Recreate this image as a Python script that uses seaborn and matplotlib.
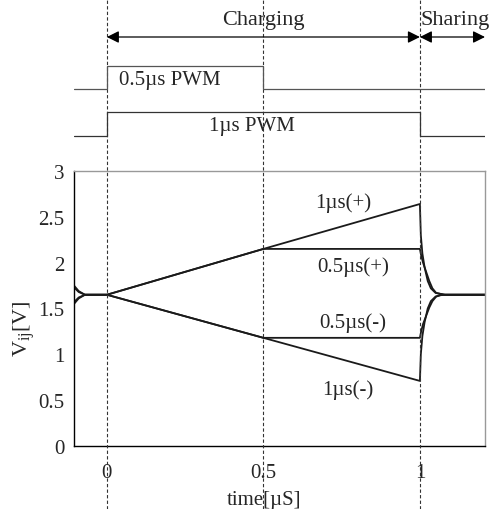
import numpy as np
import pandas as pd
import seaborn as sns
import matplotlib.pyplot as plt

# data (time in us, voltage in V)
t_1p = [-0.105, -0.09, -0.07, 0.0, 0.5, 1.0, 1.003, 1.008, 1.015, 1.025, 1.035, 1.05, 1.065, 1.08, 1.21]
v_1p = [1.75, 1.69, 1.65, 1.65, 2.15, 2.64, 2.30, 2.10, 1.95, 1.80, 1.72, 1.67, 1.66, 1.65, 1.65]
t_05p = [-0.105, -0.09, -0.07, 0.0, 0.5, 1.0, 1.004, 1.01, 1.02, 1.03, 1.04, 1.052, 1.065, 1.08, 1.21]
v_05p = [1.73, 1.68, 1.65, 1.65, 2.15, 2.15, 2.08, 2.0, 1.90, 1.80, 1.72, 1.67, 1.66, 1.65, 1.65]
t_05m = [-0.105, -0.09, -0.07, 0.0, 0.5, 1.0, 1.004, 1.01, 1.02, 1.03, 1.04, 1.052, 1.065, 1.08, 1.21]
v_05m = [1.57, 1.62, 1.65, 1.65, 1.18, 1.18, 1.25, 1.33, 1.42, 1.51, 1.58, 1.63, 1.645, 1.65, 1.65]
t_1m = [-0.105, -0.09, -0.07, 0.0, 0.5, 1.0, 1.003, 1.008, 1.015, 1.025, 1.035, 1.05, 1.065, 1.08, 1.21]
v_1m = [1.55, 1.61, 1.65, 1.65, 1.18, 0.71, 1.00, 1.20, 1.35, 1.50, 1.58, 1.63, 1.645, 1.65, 1.65]

series = {'1µs(+)': (t_1p, v_1p), '0.5µs(+)': (t_05p, v_05p),
          '0.5µs(-)': (t_05m, v_05m), '1µs(-)': (t_1m, v_1m)}
label_pos = {'1µs(+)': (0.754, 2.66), '0.5µs(+)': (0.786, 1.96),
             '0.5µs(-)': (0.786, 1.35), '1µs(-)': (0.77, 0.62)}

# PWM traces for the timing diagram (time, level)
pwm05_t = [-0.105, 0.0, 0.0, 0.5, 0.5, 1.21]
pwm05_v = [0, 0, 1, 1, 0, 0]
pwm1_t = [-0.105, 0.0, 0.0, 1.0, 1.0, 1.21]
pwm1_v = [0, 0, 1, 1, 0, 0]
markers_t = [0.0, 0.5, 1.0]

sns.set_style('white')
plt.rcParams['font.family'] = ['Liberation Serif', 'DejaVu Serif']
plt.rcParams['mathtext.fontset'] = 'custom'
plt.rcParams['mathtext.rm'] = 'Liberation Serif'
plt.rcParams['mathtext.it'] = 'Liberation Serif'

W, H = 493, 510
fig = plt.figure(figsize=(W / 100, H / 100), dpi=100)
xmin, xmax = -0.105, 1.208

# main voltage plot
ax = fig.add_axes([74 / W, 63 / H, 411 / W, 275 / H])
for name, (t, v) in series.items():
    df = pd.DataFrame({'t': t, 'v': v})
    sns.lineplot(data=df, x='t', y='v', ax=ax, color='#1a1a1a', lw=1.3,
                 estimator=None, sort=False)
    lx, ly = label_pos[name]
    ax.text(lx, ly, name, ha='center', va='center', fontsize=15)

ax.set_xlim(xmin, xmax)
ax.set_ylim(0, 3)
ax.set_xticks([0, 0.5, 1])
ax.set_xticklabels(['0', '0.5', '1'])
ax.set_xticks(np.arange(-0.1, 1.21, 0.1), minor=True)
ax.tick_params(axis='x', which='both', direction='in', length=5, width=0.8,
               pad=12, labelsize=15, color='black')
ax.set_yticks([0, 0.5, 1, 1.5, 2, 2.5, 3])
ax.set_yticklabels(['0', '0.5', '1', '1.5', '2', '2.5', '3'])
ax.tick_params(axis='y', length=0, pad=7, labelsize=15)
ax.set_xlabel('time[µS]', fontsize=15)
ax.xaxis.set_label_coords(0.462, -0.16)
ax.set_ylabel(r'V$_{\mathrm{ij}}$[V]', fontsize=16)
ax.yaxis.set_label_coords(-0.09, 0.43)
for side in ['left', 'bottom']:
    ax.spines[side].set_color('black')
    ax.spines[side].set_linewidth(1.0)
for side in ['top', 'right']:
    ax.spines[side].set_color('#999999')
    ax.spines[side].set_linewidth(1.0)

# overlay for the timing diagram and the dashed markers (pixel rows on y)
ov = fig.add_axes([74 / W, 0, 411 / W, 1], facecolor='none')
ov.set_xlim(xmin, xmax)
ov.set_ylim(H, 0)
ov.axis('off')
ov.set_zorder(5)

for tm in markers_t:
    ov.axvline(tm, color='#333333', lw=0.8, ls=(0, (3, 2)))

ov.plot(pwm05_t, [90 - 23 * v for v in pwm05_v], color='#555555', lw=0.9)
ov.plot(pwm1_t, [137 - 24 * v for v in pwm1_v], color='#333333', lw=0.9)
ov.text(0.2, 80, '0.5µs PWM', ha='center', va='center', fontsize=15)
ov.text(0.465, 126, '1µs PWM', ha='center', va='center', fontsize=15)

ov.annotate('', xy=(0.0, 38), xytext=(1.0, 38),
            arrowprops=dict(arrowstyle='<|-|>', color='black', lw=0.9,
                            mutation_scale=18, shrinkA=0, shrinkB=0))
ov.annotate('', xy=(1.0, 38), xytext=(1.208, 38),
            arrowprops=dict(arrowstyle='<|-|>', color='black', lw=0.9,
                            mutation_scale=18, shrinkA=0, shrinkB=0))
ov.text(0.5, 21, 'Charging', ha='center', va='center', fontsize=16)
ov.text(1.003, 21, 'Sharing', ha='left', va='center', fontsize=16)

fig.savefig('out.png', dpi=100)
